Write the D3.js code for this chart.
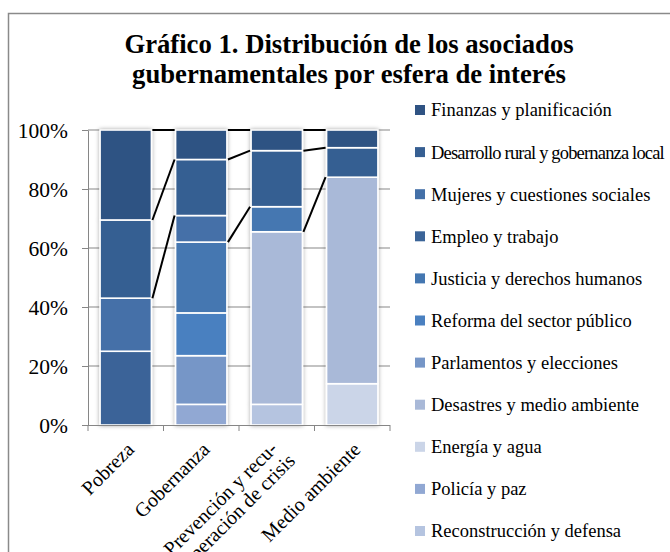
<!DOCTYPE html>
<html>
<head>
<meta charset="utf-8">
<script src="https://cdn.jsdelivr.net/npm/d3@7"></script>
<style>
  html, body { margin: 0; padding: 0; background: #fff; }
  svg { display: block; }
  text { font-family: "Liberation Serif", "Times New Roman", serif; fill: #000; }
</style>
</head>
<body>
<svg id="chart" width="670" height="552"></svg>
<script>
// ---------- DATA ----------
const categories = ["Pobreza", "Gobernanza", "Prevención y recu-\nperación de crisis", "Medio ambiente"];

// stacking order: bottom -> top (legend shows top -> bottom)
const seriesNames = [
  "Reconstrucción y defensa",
  "Policía y paz",
  "Energía y agua",
  "Desastres y medio ambiente",
  "Parlamentos y elecciones",
  "Reforma del sector público",
  "Justicia y derechos humanos",
  "Empleo y trabajo",
  "Mujeres y cuestiones sociales",
  "Desarrollo rural y gobernanza local",
  "Finanzas y planificación"
];

const seriesColors = [
  "#b5c4e0", "#91a8d3", "#cbd5e8", "#a9b9d8", "#7696c7",
  "#4a80c0", "#4477b1", "#3b6498", "#4470a8", "#365f92", "#2f5383"
];

// values (%) per category: Pobreza, Gobernanza, Prevención, Medio ambiente (null = no data)
const reconstruccion = [null, null, 7, null];
const policia        = [null, 7, null, null];
const energia        = [null, null, null, 14];
const desastres      = [null, null, 58.5, 70];
const parlamentos    = [null, 16.5, null, null];
const reforma        = [null, 14.5, null, null];
const justicia       = [null, 24, 8.5, null];
const empleo         = [25, null, null, null];
const mujeres        = [18, 9, null, null];
const desarrollo     = [26.5, 19, 19, 10];
const finanzas       = [30.5, 10, 7, 6];

const seriesValues = [reconstruccion, policia, energia, desastres, parlamentos,
  reforma, justicia, empleo, mujeres, desarrollo, finanzas];

const yTicks = [0, 20, 40, 60, 80, 100];
const titleLines = ["Gráfico 1. Distribución de los asociados", "gubernamentales por esfera de interés"];

// ---------- CHART ----------
const svg = d3.select("#chart");

// outer frame (cropped chart area border)
svg.append("rect")
  .attr("x", 8.5).attr("y", 13.5).attr("width", 700).attr("height", 600)
  .attr("fill", "#fff").attr("stroke", "#8a8a8a").attr("stroke-width", 1.5);

const defs = svg.append("defs");
const f = defs.append("filter").attr("id", "shadow")
  .attr("x", "-30%").attr("y", "-10%").attr("width", "160%").attr("height", "120%");
f.append("feDropShadow").attr("dx", 0).attr("dy", 0).attr("stdDeviation", 2.2)
  .attr("flood-color", "#000").attr("flood-opacity", 0.35);

// title
const title = svg.append("text")
  .attr("x", 349).attr("y", 53)
  .attr("text-anchor", "middle")
  .style("font-weight", "bold").style("font-size", "26.7px");
titleLines.forEach((t, i) => {
  title.append("tspan").attr("x", 349).attr("dy", i === 0 ? 0 : 30).text(t);
});

const x = d3.scaleBand().domain(categories).range([88, 390]).paddingInner(0.32).paddingOuter(0.16);
const y = d3.scaleLinear().domain([0, 100]).range([425, 130]);

// gridlines
svg.append("g").selectAll("line")
  .data(yTicks.filter(d => d > 0))
  .join("line")
  .attr("x1", 88).attr("x2", 390)
  .attr("y1", d => y(d)).attr("y2", d => y(d))
  .attr("stroke", "#878787").attr("stroke-width", 1);

// stacked data
const stacks = categories.map((c, ci) => {
  let acc = 0;
  const segs = [];
  seriesValues.forEach((vals, si) => {
    const v = vals[ci];
    if (v != null) {
      segs.push({ si, y0: acc, y1: acc + v });
      acc += v;
    }
  });
  return { c, ci, segs };
});
// cumulative top of each series per category
const tops = seriesValues.map((vals, si) => categories.map((c, ci) => {
  if (vals[ci] == null) return null;
  let acc = 0;
  for (let k = 0; k <= si; k++) acc += (seriesValues[k][ci] || 0);
  return acc;
}));

// bars
const barG = svg.append("g");
stacks.forEach(st => {
  const g = barG.append("g").attr("filter", "url(#shadow)");
  g.selectAll("rect").data(st.segs).join("rect")
    .attr("x", x(st.c))
    .attr("width", x.bandwidth())
    .attr("y", d => y(d.y1))
    .attr("height", d => y(d.y0) - y(d.y1))
    .attr("fill", d => seriesColors[d.si])
    .attr("stroke", "#fff").attr("stroke-width", 1.6);
});

// series lines (only where series present in both adjacent bars)
const sl = svg.append("g");
for (let ci = 0; ci < categories.length - 1; ci++) {
  seriesValues.forEach((vals, si) => {
    const a = tops[si][ci], b = tops[si][ci + 1];
    if (a != null && b != null) {
      sl.append("line")
        .attr("x1", x(categories[ci]) + x.bandwidth() + 1)
        .attr("x2", x(categories[ci + 1]) - 1)
        .attr("y1", y(a)).attr("y2", y(b))
        .attr("stroke", "#000").attr("stroke-width", 2);
    }
  });
}

// y axis
const yAxis = svg.append("g").attr("transform", "translate(88,0)")
  .call(d3.axisLeft(y).tickValues(yTicks).tickFormat(d => d + "%").tickSize(6).tickSizeOuter(0).tickPadding(14));
yAxis.select(".domain").attr("stroke", "#868686");
yAxis.selectAll(".tick line").attr("stroke", "#868686");
yAxis.selectAll("text").style("font-size", "21.5px").style("font-family", "Liberation Serif, serif").attr("dy", "0.35em");

// x axis
const xAxis = svg.append("g").attr("transform", "translate(0,425)")
  .call(d3.axisBottom(x).tickSize(0).tickFormat(""));
xAxis.select(".domain").attr("stroke", "#868686").attr("d", "M88,0.5H390");
const boundaries = [x.range()[0]].concat(categories.map(c => x(c) + x.bandwidth() + x.step() * x.paddingInner() / 2));
xAxis.selectAll(".bnd").data(boundaries).join("line").attr("class", "bnd")
  .attr("x1", d => d).attr("x2", d => d).attr("y1", 0).attr("y2", 6)
  .attr("stroke", "#868686");

// x labels rotated
const xl = svg.append("g");
categories.forEach(c => {
  const cx = x(c) + x.bandwidth() / 2 - 1;
  const t = xl.append("text")
    .attr("transform", `translate(${cx},440) rotate(-45)`)
    .attr("text-anchor", "end")
    .style("font-size", "20px");
  const lines = c.split("\n");
  lines.forEach((ln, i) => {
    const sp = t.append("tspan").attr("x", 0).text(ln);
    if (lines.length === 1) sp.attr("dy", "0.75em");
    else if (i === 0) sp.attr("dy", "0.45em").attr("x", -5);
    else sp.attr("dy", "1.05em").attr("x", -1);
  });
});

// legend
const legendNames = seriesNames.slice().reverse();
const legendColors = seriesColors.slice().reverse();
const lg = svg.append("g");
const maxW = 233;
legendNames.forEach((n, i) => {
  const cy = 110 + i * 42.1;
  lg.append("rect").attr("x", 415).attr("y", cy - 5).attr("width", 10).attr("height", 10)
    .attr("fill", legendColors[i]);
  const t = lg.append("text").attr("x", 431).attr("y", cy).attr("dy", "0.35em")
    .style("font-size", "18.5px").text(n);
  const w = t.node().getComputedTextLength();
  if (w > maxW) {
    const ls = -(w - maxW) / n.length;
    t.style("letter-spacing", ls.toFixed(2) + "px");
  }
});
</script>
</body>
</html>
